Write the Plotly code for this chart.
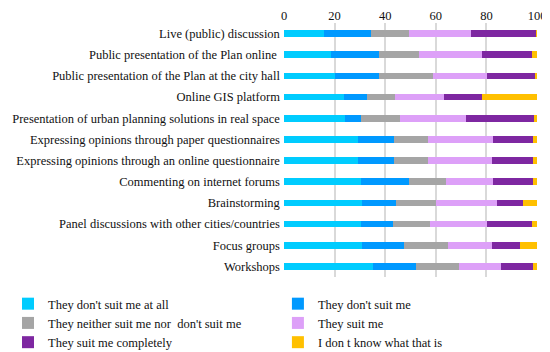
import plotly.graph_objects as go

categories = [
    "Live (public) discussion",
    "Public presentation of the Plan online ",
    "Public presentation of the Plan at the city hall",
    "Online GIS platform",
    "Presentation of urban planning solutions in real space",
    "Expressing opinions through paper questionnaires",
    "Expressing opinions through an online questionnaire",
    "Commenting on internet forums",
    "Brainstorming",
    "Panel discussions with other cities/countries",
    "Focus groups",
    "Workshops",
]

series_names = [
    "They don't suit me at all",
    "They don't suit me",
    "They neither suit me nor  don't suit me",
    "They suit me",
    "They suit me completely",
    "I don t know what that is",
]

not_at_all = [16.0, 18.6, 20.1, 23.7, 24.3, 29.2, 29.2, 30.3, 30.9, 30.5, 30.7, 35.0]
not_suit = [18.2, 19.1, 17.6, 9.1, 6.2, 14.4, 14.3, 19.3, 13.2, 12.5, 16.8, 17.2]
neither = [15.4, 15.6, 21.3, 10.9, 15.4, 13.5, 13.5, 14.4, 15.8, 14.8, 17.4, 17.1]
suit = [24.3, 24.9, 21.2, 19.4, 26.0, 25.5, 25.4, 18.8, 24.4, 22.5, 17.2, 16.4]
completely = [25.8, 19.8, 18.9, 15.0, 26.8, 15.8, 15.9, 15.7, 10.0, 17.6, 11.0, 12.6]
dont_know = [0.3, 2.0, 0.9, 21.9, 1.3, 1.6, 1.7, 1.5, 5.7, 2.1, 6.9, 1.7]

values = [not_at_all, not_suit, neither, suit, completely, dont_know]
colors = ["#00CCFF", "#0099FF", "#A5A5A5", "#DDA0F8", "#7E27A1", "#FFC000"]

fig = go.Figure()
for i, (name, vals, col) in enumerate(zip(series_names, values, colors)):
    fig.add_trace(go.Bar(
        y=categories, x=vals, name=name, orientation="h",
        marker=dict(color=col, line=dict(width=0)),
        legend="legend" if i % 2 == 0 else "legend2",
    ))

legend_common = dict(
    orientation="v", xanchor="left", y=0.183, yanchor="top",
    xref="container", yref="container",
    font=dict(size=12.5), traceorder="normal",
    itemwidth=30, tracegroupgap=0, bgcolor="rgba(0,0,0,0)",
)

fig.update_layout(
    barmode="stack",
    bargap=0.68,
    width=542, height=344,
    margin=dict(l=276, r=13, t=15, b=75, autoexpand=False),
    paper_bgcolor="white", plot_bgcolor="white",
    font=dict(family="Liberation Serif", size=12.5, color="#111111"),
    xaxis=dict(
        side="top", range=[0, 100], dtick=20, showgrid=True,
        gridcolor="#D9D9D9", gridwidth=1.5, zeroline=False,
        showline=False, ticks="", tickfont=dict(size=12.5),
        automargin=False,
    ),
    yaxis=dict(
        categoryorder="array", categoryarray=categories,
        autorange="reversed", showgrid=False, ticks="",
        tickfont=dict(size=12.5), ticksuffix=" ", automargin=False,
    ),
    legend=dict(x=0.0, **legend_common),
    legend2=dict(x=0.498, **legend_common),
    showlegend=True,
)

fig.write_html("out.html")
